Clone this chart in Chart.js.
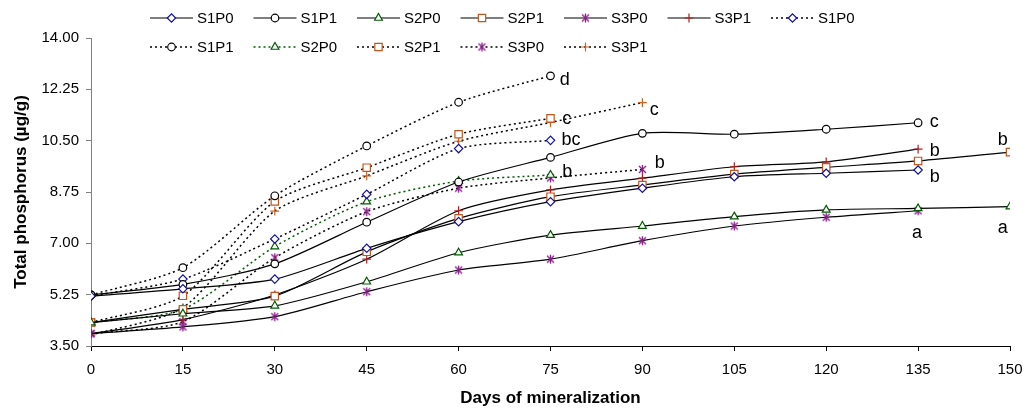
<!DOCTYPE html>
<html>
<head>
<meta charset="utf-8">
<script src="https://cdn.jsdelivr.net/npm/chart.js@4.4.0/dist/chart.umd.min.js"></script>
<style>
html, body { margin: 0; padding: 0; background: #fff; }
#wrap { width: 1023px; height: 410px; }
</style>
</head>
<body>
<div id="wrap"><canvas id="phChart" width="1023" height="410"></canvas></div>
<script>
// Data
const days = [0, 15, 30, 45, 60, 75, 90, 105, 120, 135, 150];
const yTicks = [3.5, 5.25, 7, 8.75, 10.5, 12.25, 14];

// solid lines
const s1p0 = [5.20, 5.45, 5.78, 6.83, 7.74, 8.42, 8.88, 9.27, 9.39, 9.50];
const s1p1 = [5.24, 5.60, 6.30, 7.72, 9.09, 9.93, 10.75, 10.72, 10.89, 11.11];
const s2p0 = [4.30, 4.60, 4.87, 5.69, 6.68, 7.28, 7.59, 7.91, 8.14, 8.19, 8.25];
const s2p1 = [4.30, 4.75, 5.20, 6.71, 7.85, 8.59, 8.99, 9.36, 9.59, 9.81, 10.11];
const s3p0 = [3.92, 4.15, 4.50, 5.35, 6.09, 6.46, 7.09, 7.59, 7.89, 8.11];
const s3p1 = [3.92, 4.40, 5.24, 6.46, 8.11, 8.82, 9.22, 9.61, 9.78, 10.21];

// dotted lines
const d1p0 = [5.20, 5.78, 7.15, 8.67, 10.23, 10.51];
const d1p1 = [5.24, 6.17, 8.62, 10.32, 11.81, 12.71];
const d2p0 = [4.30, 4.75, 6.89, 8.42, 9.12, 9.33];
const d2p1 = [4.30, 5.21, 8.43, 9.58, 10.72, 11.26];
const d3p0 = [3.92, 4.33, 6.51, 8.08, 8.88, 9.23, 9.52];
const d3p1 = [3.87, 4.81, 8.10, 9.30, 10.48, 11.12, 11.80];

// significance letters
const letterText = ["d", "c", "bc", "b", "c", "b", "c", "b", "b", "a", "b", "a"];
const letterDay = [76.5, 76.9, 76.8, 76.9, 91.2, 92.0, 136.9, 136.9, 136.9, 134.0, 148.0, 148.0];
const letterValue = [12.57, 11.24, 10.52, 9.44, 11.55, 9.75, 11.13, 10.15, 9.27, 7.34, 10.52, 7.52];

// star marker (x with vertical bar, like Excel)
function starMarker(color) {
  const c = document.createElement("canvas");
  c.width = 11; c.height = 11;
  const g = c.getContext("2d");
  g.strokeStyle = color;
  g.lineWidth = 1.3;
  g.beginPath();
  g.moveTo(2, 2); g.lineTo(9, 9);
  g.moveTo(9, 2); g.lineTo(2, 9);
  g.moveTo(5.5, 1); g.lineTo(5.5, 10);
  g.stroke();
  return c;
}
const starImg = starMarker("#8b1a8b");

const pts = vals => vals.map((v, i) => ({ x: days[i], y: v }));
const dots = [2, 3];

function series(label, vals, style, color, dotted, lineColor) {
  const radius = { circle: 3.8, rectRot: 4.2, triangle: 4.5, rect: 5.2, cross: 4.4 }[style] || 5.5;
  return {
    label: label,
    data: pts(vals),
    borderColor: lineColor || "#000",
    borderWidth: dotted ? 1.5 : 1.2,
    borderDash: dotted ? dots : [],
    tension: 0.25,
    pointStyle: style === "star" ? starImg : style,
    pointRadius: radius,
    pointBorderColor: color,
    pointBackgroundColor: "#fff",
    pointBorderWidth: 1.2,
    fill: false,
    mColor: color,
    dotted: dotted
  };
}

const datasets = [
  series("S1P0", s1p0, "rectRot", "#10109a", false),
  series("S1P1", s1p1, "circle", "#000", false),
  series("S2P0", s2p0, "triangle", "#005a00", false),
  series("S2P1", s2p1, "rect", "#c0561e", false),
  series("S3P0", s3p0, "star", "#8b1a8b", false),
  series("S3P1", s3p1, "cross", "#b01c1c", false),
  series("S1P0", d1p0, "rectRot", "#10109a", true),
  series("S1P1", d1p1, "circle", "#000", true),
  series("S2P0", d2p0, "triangle", "#005a00", true, "#005a00"),
  series("S2P1", d2p1, "rect", "#c0561e", true),
  series("S3P0", d3p0, "star", "#8b1a8b", true),
  series("S3P1", d3p1, "cross", "#d0601e", true)
];

// Letters next to end points
const letters = {
  id: "letters",
  afterDatasetsDraw(chart) {
    const { ctx, scales } = chart;
    ctx.save();
    ctx.font = '18px "Liberation Sans", Arial, sans-serif';
    ctx.fillStyle = "#000";
    ctx.textAlign = "left";
    ctx.textBaseline = "middle";
    letterText.forEach((t, i) => {
      ctx.fillText(t, scales.x.getPixelForValue(letterDay[i]), scales.y.getPixelForValue(letterValue[i]));
    });
    ctx.restore();
  }
};

// Legend: line with marker, two rows
const lineLegend = {
  id: "lineLegend",
  afterDraw(chart) {
    const ctx = chart.ctx;
    ctx.save();
    ctx.font = '15px "Liberation Sans", Arial, sans-serif';
    ctx.textBaseline = "middle";
    chart.data.datasets.forEach((ds, i) => {
      const row = i < 7 ? 0 : 1;
      const col = i < 7 ? i : i - 7;
      const x0 = 150 + col * 103.5;
      const y = row ? 47 : 18;
      ctx.strokeStyle = ds.borderColor;
      ctx.lineWidth = ds.borderWidth;
      ctx.setLineDash(ds.dotted ? dots : []);
      ctx.beginPath();
      ctx.moveTo(x0, y);
      ctx.lineTo(x0 + 43, y);
      ctx.stroke();
      ctx.setLineDash([]);
      ctx.fillStyle = "#fff";
      ctx.strokeStyle = ds.mColor;
      ctx.lineWidth = 1.2;
      Chart.helpers.drawPoint(ctx, {
        pointStyle: ds.pointStyle,
        radius: ds.pointRadius,
        rotation: 0,
        borderWidth: 1.2
      }, x0 + 21.5, y);
      ctx.fillStyle = "#000";
      ctx.fillText(ds.label, x0 + 47, y + 1);
    });
    ctx.restore();
  }
};

const whiteBg = {
  id: "whiteBg",
  beforeDraw(chart) {
    const ctx = chart.ctx;
    ctx.save();
    ctx.fillStyle = "#fff";
    ctx.fillRect(0, 0, chart.width, chart.height);
    ctx.restore();
  }
};

const tickFont = { family: '"Liberation Sans", Arial, sans-serif', size: 15 };
const titleFont = { family: '"Liberation Sans", Arial, sans-serif', size: 17, weight: "bold" };

new Chart(document.getElementById("phChart"), {
  type: "line",
  data: { datasets: datasets },
  options: {
    responsive: false,
    animation: false,
    devicePixelRatio: 1,
    layout: { padding: { top: 38, right: 13, bottom: 0, left: 0 } },
    plugins: { legend: { display: false }, tooltip: { enabled: false } },
    scales: {
      x: {
        type: "linear",
        min: 0,
        max: 150,
        afterBuildTicks: s => { s.ticks = days.map(v => ({ value: v })); },
        afterFit: s => { s.height = 64; s.paddingLeft = 0; s.paddingRight = 0; },
        ticks: { color: "#000", font: tickFont, padding: 10, maxRotation: 0 },
        grid: { drawOnChartArea: false, tickLength: 5, color: "#000" },
        border: { color: "#000", width: 1 },
        title: { display: true, text: "Days of mineralization", color: "#000", font: titleFont, padding: { top: 0, bottom: 1 } }
      },
      y: {
        min: 3.5,
        max: 14,
        afterBuildTicks: s => { s.ticks = yTicks.map(v => ({ value: v })); },
        afterFit: s => { s.width = 91; s.paddingTop = 0; s.paddingBottom = 0; },
        ticks: { color: "#000", font: tickFont, padding: 7, callback: v => v.toFixed(2) },
        grid: { drawOnChartArea: false, tickLength: 5, color: "#808080" },
        border: { color: "#808080", width: 1 },
        title: { display: true, text: "Total phosphorus (µg/g)", color: "#000", font: titleFont, padding: { top: 11, bottom: 0 } }
      }
    }
  },
  plugins: [whiteBg, letters, lineLegend]
});
</script>
</body>
</html>
